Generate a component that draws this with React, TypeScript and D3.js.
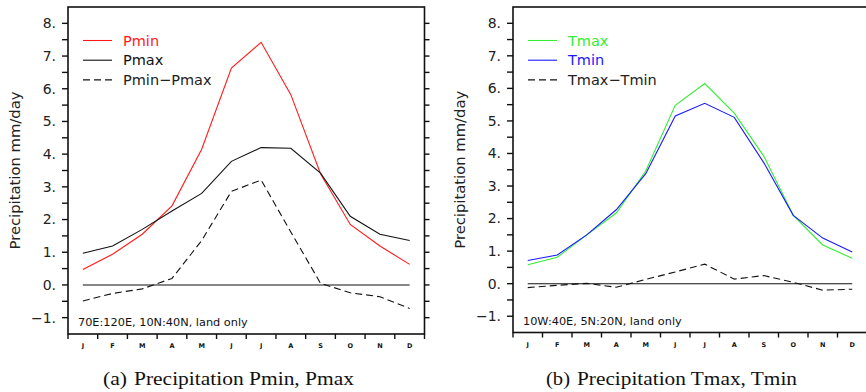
import React from 'react';
import * as d3 from 'd3';

// monthly climatology, mm/day
const months = ['J', 'F', 'M', 'A', 'M', 'J', 'J', 'A', 'S', 'O', 'N', 'D'];

const pMin = [0.47, 0.94, 1.55, 2.42, 4.15, 6.63, 7.42, 5.82, 3.4, 1.85, 1.19, 0.63];
const pMax = [0.97, 1.19, 1.7, 2.26, 2.8, 3.78, 4.2, 4.18, 3.42, 2.1, 1.55, 1.36];
const pDiff = [-0.49, -0.26, -0.12, 0.2, 1.36, 2.86, 3.21, 1.62, 0.05, -0.24, -0.36, -0.72];

const tMax = [0.58, 0.81, 1.5, 2.17, 3.46, 5.48, 6.15, 5.24, 3.92, 2.1, 1.19, 0.78];
const tMin = [0.71, 0.88, 1.5, 2.27, 3.38, 5.15, 5.54, 5.11, 3.72, 2.1, 1.4, 0.97];
const tDiff = [-0.12, -0.05, 0.01, -0.11, 0.13, 0.36, 0.6, 0.14, 0.25, 0.04, -0.2, -0.17];

const yTicks = [-1, 0, 1, 2, 3, 4, 5, 6, 7, 8];
const yMinor = [-0.5, 0.5, 1.5, 2.5, 3.5, 4.5, 5.5, 6.5, 7.5];

const sans = '"DejaVu Sans", sans-serif';
const serif = '"Liberation Serif", "Times New Roman", serif';

type Series = { name: string; values: number[]; color: string; dash?: string };

type PanelProps = {
  left: number;
  right: number;
  top: number;
  bottom: number;
  series: Series[];
  region: string;
  tag: string;
  caption: string;
  captionX: number;
};

const Panel = ({ left, right, top, bottom, series, region, tag, caption, captionX }: PanelProps) => {
  const x = d3.scaleBand<number>().domain(d3.range(12)).range([left, right]).padding(0);
  const cx = (i: number) => (x(i) as number) + x.bandwidth() / 2;
  const y = d3.scaleLinear().domain([-1.5, 8.5]).range([bottom, top]);

  const line = d3
    .line<number>()
    .x((_, i) => cx(i))
    .y(d => y(d));

  const fmt = (v: number) => (v < 0 ? '\u2212' + Math.abs(v) : String(v)) + '.';
  const midY = (top + bottom) / 2;

  return (
    <g>
      {/* frame */}
      <rect x={left} y={top} width={right - left} height={bottom - top} fill="none" stroke="#111" strokeWidth={1.6} />

      {/* y ticks */}
      {[...yTicks, ...yMinor].map(v => (
        <g key={'t' + v}>
          <line x1={left - 6} x2={left} y1={y(v)} y2={y(v)} stroke="#111" strokeWidth={1.4} />
          <line x1={right} x2={right + 5} y1={y(v)} y2={y(v)} stroke="#111" strokeWidth={1.4} />
        </g>
      ))}
      {yTicks.map(v => (
        <text key={'l' + v} x={left - 12} y={y(v)} dy="0.35em" textAnchor="end" fontFamily={sans} fontSize={14} fill="#222">
          {fmt(v)}
        </text>
      ))}

      {/* x ticks at month boundaries */}
      {d3.range(13).map(i => {
        const xx = left + i * x.bandwidth();
        return <line key={'x' + i} x1={xx} x2={xx} y1={bottom} y2={bottom + 5} stroke="#111" strokeWidth={1.4} />;
      })}
      {months.map((m, i) => (
        <text key={'m' + i} x={cx(i)} y={bottom + 12} dy="0.35em" textAnchor="middle" fontFamily={sans} fontWeight="bold" fontSize={6.5} fill="#111">
          {m}
        </text>
      ))}

      {/* zero line */}
      <line x1={cx(0)} x2={cx(11)} y1={y(0)} y2={y(0)} stroke="#111" strokeWidth={1.1} />

      {series.map(s => (
        <path key={s.name} d={line(s.values) as string} fill="none" stroke={s.color} strokeWidth={1.1} strokeDasharray={s.dash} />
      ))}

      {/* legend */}
      {series.map((s, i) => {
        const ly = 40.5 + i * 19.7;
        return (
          <g key={'lg' + s.name}>
            <line x1={left + 15} x2={left + 44} y1={ly} y2={ly} stroke={s.color} strokeWidth={1.1} strokeDasharray={s.dash} />
            <text x={left + 55} y={ly} dy="0.35em" fontFamily={sans} fontSize={14.5} fill={s.dash ? '#222' : s.color}>
              {s.name}
            </text>
          </g>
        );
      })}

      <text x={left + 10} y={y(-1.3) - 1} fontFamily={sans} fontSize={11.3} fill="#111">
        {region}
      </text>

      <text
        transform={`translate(${left - 53},${midY}) rotate(-90)`}
        textAnchor="middle"
        dy="0.35em"
        fontFamily={sans}
        fontSize={14}
        fill="#222"
        textLength={158}
        lengthAdjust="spacingAndGlyphs"
      >
        Precipitation mm/day
      </text>

      <text x={captionX} y={385} fontFamily={serif} fontSize={18} fill="#111">
        <tspan textLength={24} lengthAdjust="spacingAndGlyphs">{tag}</tspan>
        <tspan x={captionX + 31} textLength={220} lengthAdjust="spacingAndGlyphs">{caption}</tspan>
      </text>
    </g>
  );
};

export default function App() {
  return (
    <svg width={866} height={392} style={{ position: 'absolute', left: 0, top: 0, background: '#fff' }}>
      <Panel
        left={68}
        right={424.5}
        top={7}
        bottom={334}
        region="70E:120E, 10N:40N, land only"
        tag="(a)"
        caption="Precipitation Pmin, Pmax"
        captionX={103}
        series={[
          { name: 'Pmin', values: pMin, color: '#ff1a1a' },
          { name: 'Pmax', values: pMax, color: '#111' },
          { name: 'Pmin\u2212Pmax', values: pDiff, color: '#111', dash: '7,4' },
        ]}
      />
      <Panel
        left={513}
        right={867}
        top={7}
        bottom={332.5}
        region="10W:40E, 5N:20N, land only"
        tag="(b)"
        caption="Precipitation Tmax, Tmin"
        captionX={546}
        series={[
          { name: 'Tmax', values: tMax, color: '#33ee33' },
          { name: 'Tmin', values: tMin, color: '#1a1aff' },
          { name: 'Tmax\u2212Tmin', values: tDiff, color: '#111', dash: '7,4' },
        ]}
      />
    </svg>
  );
}
